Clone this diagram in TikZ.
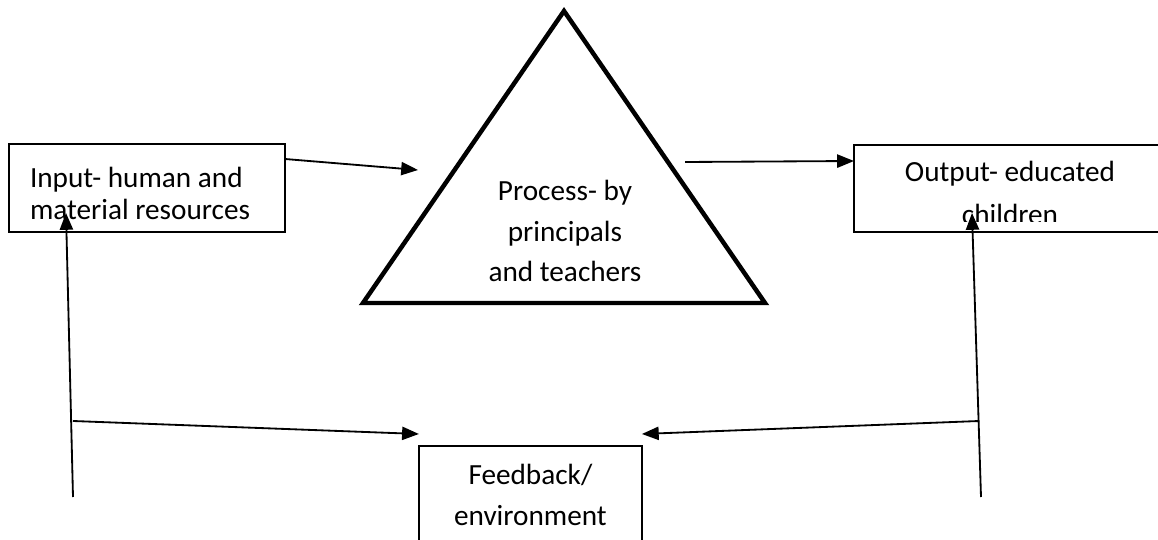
\documentclass[tikz,border=0pt]{standalone}
\usepackage{fontspec}
\setmainfont{Carlito}
\usetikzlibrary{arrows.meta, calc, positioning}
\tikzstyle{box} = [%
					draw,
					rectangle,
					line width = 1.1pt
					]
\tikzstyle{flow} = [%
					line width = 1.3pt,
					-{Triangle[length=0.42cm, width=0.33cm]}
					]

\begin{document}
\begin{tikzpicture}[txt/.style={font=\fontsize{20.8}{#1}\selectfont}, outer sep=0pt]
		
		\useasboundingbox (0,0) rectangle (28.95,13.475);
		
		% Coordinates
		\coordinate (T) at (14.1,13.2);
		\coordinate (L) at (9.075,5.9);
		\coordinate (R) at (19.125,5.9);
		\coordinate (pin) at (10.45,9.225);
		\coordinate (pout) at (17.125,9.425);
		\coordinate (lb) at (1.825,1.05);
		\coordinate (lm) at (1.825,2.95);
		\coordinate (rb) at (24.525,1.05);
		\coordinate (rm) at (24.475,2.95);
		
		% Nodes
		%% Input
		\node[box, minimum width=6.9cm, minimum height=2.2cm, text width=5.85cm, inner xsep=0.525cm, align=flush left, txt=22.8pt] at (3.675,8.775) (in) {\rule{0pt}{0.8cm}Input- human and\\material resources};
		%% Output
		\node[box, minimum width=7.8cm, minimum height=2.175cm] at (25.25,8.7625) (out) {};
		\begin{scope}
			\clip ($(out.south west)+(0,0.26)$) rectangle (out.north east);
			\node[align=center, txt=30.6pt] at (25.25,8.64) (outtxt) {Output- educated\\children};
		\end{scope}
		%% Feedback
		\node[box, minimum width=5.575cm, minimum height=2.425cm, align=center, txt=29.2pt] at (13.26,1.1125) (fb) {Feedback/\\environment};
		
		% Triangle
		\draw[line width=3.2pt] (T) -- (L) -- (R) -- cycle;
		\node[align=center, txt=28.5pt] at (14.125,7.7) (proc) {Process- by\\principals\\and teachers};
		
		% Arrows
		\draw[flow] ([yshift=-0.375cm]in.north east) -- (pin);
		\draw[flow] (pout) -- ([yshift=-0.4cm]out.north west);
		\draw[flow] (lb) -- ($(in.south west)+(1.425,0.475)$);
		\draw[flow] (rb) -- ($(out.south west)+(2.95,0.475)$);
		\draw[flow] (lm) -- ([yshift=0.3cm]fb.north west);
		\draw[flow] (rm) -- ([yshift=0.3cm]fb.north east);
	\end{tikzpicture}
\end{document}
